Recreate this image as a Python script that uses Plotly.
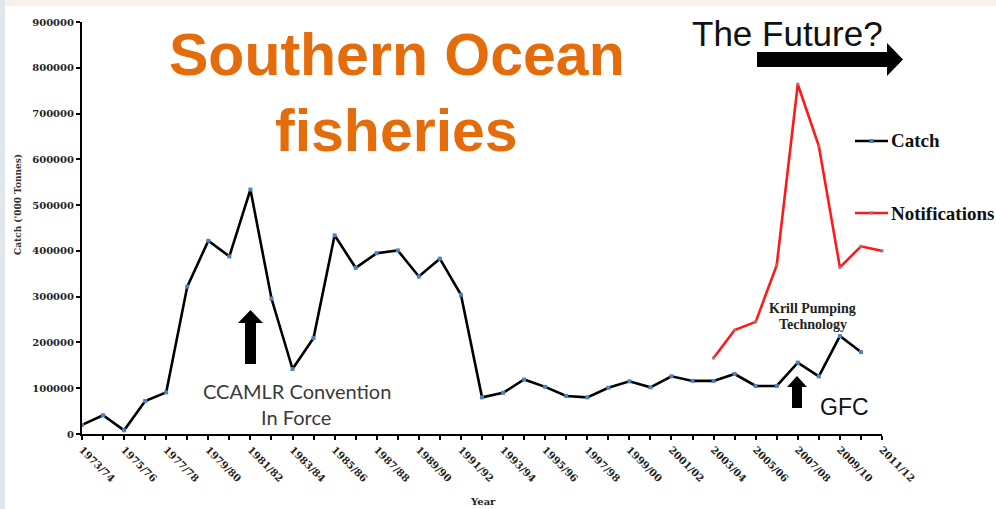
import plotly.graph_objects as go

# Fishing seasons 1973/74 .. 2011/12
seasons = [f"{y}/{str(y + 1)[-2:]}" for y in range(1973, 2012)]

# Krill catch ('000 tonnes) by season, 1973/74 .. 2010/11
catch = [20000, 41000, 8000, 72000, 91000, 322000, 422000, 388000, 534000, 296000,
         142000, 210000, 434000, 363000, 395000, 401000, 344000, 383000, 304000, 80000,
         90000, 119000, 103000, 83000, 80000, 101000, 115000, 102000, 126000, 116000,
         116000, 131000, 105000, 105000, 156000, 126000, 214000, 179000]

# Notified catches, 2003/04 .. 2011/12
notif_seasons = seasons[30:]
notifications = [166000, 227000, 245000, 369000, 764000, 629000, 364000, 410000, 400000]

# Tick labels on every second season
tick_labels = [s if i % 2 == 0 else "" for i, s in enumerate(seasons)]
y_ticks = list(range(0, 900001, 100000))

W, H = 996, 509
L, R, T, B = 82, 114, 22, 75
PW, PH = W - L - R, H - T - B


def px(x):
    return (x - L) / PW


def py(y):
    return (H - B - y) / PH


def poly(points):
    return "M " + " L ".join(f"{px(x):.5f},{py(y):.5f}" for x, y in points) + " Z"


fig = go.Figure()

fig.add_trace(go.Scatter(
    x=seasons[:len(catch)], y=catch, mode="lines+markers", name="Catch",
    line=dict(color="#000000", width=2.6),
    marker=dict(symbol="square", size=4, color="#4f81bd", line=dict(width=0)),
    cliponaxis=False, showlegend=False,
))
fig.add_trace(go.Scatter(
    x=notif_seasons, y=notifications, mode="lines+markers", name="Notifications",
    line=dict(color="#ff1a1a", width=2.6),
    marker=dict(symbol="square", size=3, color="#b07070", line=dict(width=0)),
    cliponaxis=False, showlegend=False,
))

serif = "DejaVu Serif"
shapes = [
    # slide background strips
    dict(type="rect", xref="paper", yref="paper", x0=px(0), x1=px(5), y0=py(509), y1=py(0),
         fillcolor="#dfe6ec", line=dict(width=0), layer="below"),
    dict(type="rect", xref="paper", yref="paper", x0=px(5), x1=px(996), y0=py(6), y1=py(0),
         fillcolor="#f6f1ed", line=dict(width=0), layer="below"),
    # "The Future?" arrow
    dict(type="path", xref="paper", yref="paper",
         path=poly([(757, 52), (887, 52), (887, 43), (903, 59.5), (887, 76), (887, 67), (757, 67)]),
         fillcolor="#000000", line=dict(width=0)),
    # CCAMLR arrow
    dict(type="path", xref="paper", yref="paper",
         path=poly([(245, 364), (245, 323), (238, 323), (250.5, 310), (263, 323), (256, 323), (256, 364)]),
         fillcolor="#000000", line=dict(width=0)),
    # GFC arrow
    dict(type="path", xref="paper", yref="paper",
         path=poly([(792, 408), (792, 387), (787, 387), (797, 376), (807, 387), (802, 387), (802, 408)]),
         fillcolor="#000000", line=dict(width=0)),
    # legend swatches
    dict(type="line", xref="paper", yref="paper", x0=px(855), x1=px(888), y0=py(141), y1=py(141),
         line=dict(color="#000000", width=2.6)),
    dict(type="rect", xref="paper", yref="paper", x0=px(869.5), x1=px(873.5), y0=py(143), y1=py(139),
         fillcolor="#4f81bd", line=dict(width=0)),
    dict(type="line", xref="paper", yref="paper", x0=px(855), x1=px(888), y0=py(213), y1=py(213),
         line=dict(color="#ff1a1a", width=2.6)),
    dict(type="rect", xref="paper", yref="paper", x0=px(870), x1=px(873), y0=py(214.5), y1=py(211.5),
         fillcolor="#b07070", line=dict(width=0)),
]


def note(text, x, y, size, family, color="#000000", xanchor="center", bold=False, textangle=0):
    if bold:
        text = f"<b>{text}</b>"
    return dict(text=text, xref="paper", yref="paper", x=px(x), y=py(y), showarrow=False,
                xanchor=xanchor, yanchor="middle", textangle=textangle,
                font=dict(size=size, family=family, color=color))


annotations = [
    note("Southern Ocean", 397, 55, 59, "Liberation Sans", "#e46c0a", bold=True),
    note("fisheries", 396, 131, 59, "Liberation Sans", "#e46c0a", bold=True),
    note("The Future?", 690, 34, 35, "Liberation Sans", "#111111", xanchor="left"),
    note("CCAMLR Convention", 297, 391, 20, "Lato", "#3a3a3a"),
    note("In Force", 296, 417, 20, "Lato", "#3a3a3a"),
    note("GFC", 818, 407, 23, "Liberation Sans", "#111111", xanchor="left"),
    note("Krill Pumping", 812, 308, 14, "Liberation Serif", "#222222", bold=True),
    note("Technology", 813, 324, 14, "Liberation Serif", "#222222", bold=True),
    note("Catch", 889, 140, 19, "Liberation Serif", "#111111", xanchor="left", bold=True),
    note("Notifications", 889, 213, 19, "Liberation Serif", "#111111", xanchor="left", bold=True),
    note("Catch ('000 Tonnes)", 18, 205, 9, serif, "#333333", bold=True, textangle=-90),
    note("Year", 483, 501, 10, serif, "#222222", bold=True),
]

fig.update_layout(
    width=W, height=H,
    margin=dict(l=L, r=R, t=T, b=B),
    paper_bgcolor="#ffffff", plot_bgcolor="rgba(0,0,0,0)",
    shapes=shapes, annotations=annotations,
    showlegend=False,
    xaxis=dict(
        type="category", categoryorder="array", categoryarray=seasons,
        range=[0, len(seasons) - 1],
        tickmode="array", tickvals=seasons, ticktext=tick_labels,
        tickangle=45, ticks="outside", ticklen=4, tickwidth=1.5, tickcolor="#000000",
        showline=True, linecolor="#000000", linewidth=2, showgrid=False, zeroline=False,
        tickfont=dict(family=serif, size=10, color="#222222", weight="bold"),
    ),
    yaxis=dict(
        range=[0, 900000], tickmode="array", tickvals=y_ticks,
        ticktext=[str(v) for v in y_ticks],
        ticks="outside", ticklen=4, tickwidth=1.5, tickcolor="#000000",
        showline=True, linecolor="#000000", linewidth=2, showgrid=False, zeroline=False,
        tickfont=dict(family=serif, size=10, color="#222222", weight="bold"),
    ),
)

fig.write_html("out.html")
